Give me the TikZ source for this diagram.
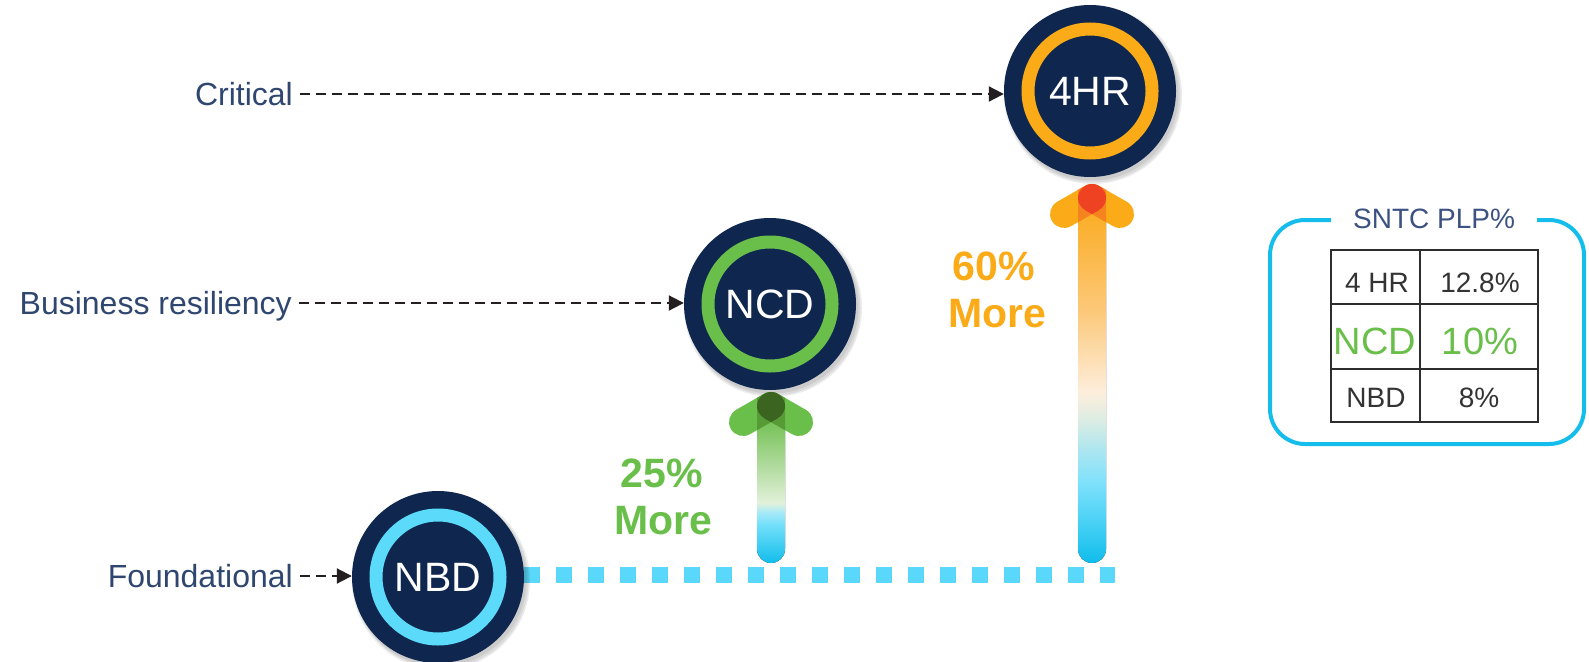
\documentclass[tikz,border=0pt]{standalone}
\usepackage{fontspec}
\setmainfont{Liberation Sans}
\usetikzlibrary{arrows.meta,calc}
\definecolor{navy}{HTML}{0F274F}
\definecolor{lbltxt}{HTML}{2F4770}
\definecolor{ttltxt}{HTML}{3B5282}
\definecolor{cellgray}{HTML}{333333}
\definecolor{gridc}{HTML}{2D2D2D}
\definecolor{arrblack}{HTML}{231F20}
\definecolor{grn}{HTML}{6ABF4B}
\definecolor{grnM}{HTML}{579B37}
\definecolor{grnD}{HTML}{3B6421}
\definecolor{org}{HTML}{FBAB18}
\definecolor{orgM}{HTML}{F5841F}
\definecolor{orgD}{HTML}{EE4223}
\definecolor{cyanring}{HTML}{5BDAF9}
\definecolor{dotc}{HTML}{5AD8FA}
\definecolor{boxc}{HTML}{14BDEB}
% green shaft stops
\definecolor{gs0}{HTML}{12BDEB}
\definecolor{gs1}{HTML}{72DFFA}
\definecolor{gs2}{HTML}{A8EAF8}
\definecolor{gs3}{HTML}{E2F1DA}
\definecolor{gs4}{HTML}{80C663}
\definecolor{gs5}{HTML}{6ABF4B}
% orange shaft stops
\definecolor{os0}{HTML}{0FBCEB}
\definecolor{os1}{HTML}{3ACCF3}
\definecolor{os2}{HTML}{7EE1FC}
\definecolor{os3}{HTML}{ADE6F0}
\definecolor{os4}{HTML}{E0EDE2}
\definecolor{os5}{HTML}{FDEEDC}
\definecolor{os6}{HTML}{FCC878}
\definecolor{os7}{HTML}{FBAE28}
\definecolor{os8}{HTML}{FBAB18}
\pgfdeclareverticalshading{grshaft}{100bp}{color(0bp)=(gs0); color(25bp)=(gs0); color(37.1bp)=(gs1); color(41.2bp)=(gs2); color(44.1bp)=(gs3); color(67.4bp)=(gs4); color(75bp)=(gs5); color(100bp)=(gs5)}
\pgfdeclareverticalshading{orshaft}{100bp}{color(0bp)=(os0); color(25bp)=(os0); color(29.1bp)=(os1); color(36bp)=(os2); color(40.5bp)=(os3); color(45bp)=(os4); color(48.3bp)=(os5); color(59.7bp)=(os6); color(72.7bp)=(os7); color(75bp)=(os8); color(100bp)=(os8)}
\pgfdeclarelayer{bgwhite}
\pgfdeclarelayer{bg}
\pgfdeclarelayer{shad}
\pgfsetlayers{bgwhite,bg,shad,main}
\begin{document}
\begin{tikzpicture}[x=1pt,y=-1pt,
  lbl/.style={text=lbltxt, font=\fontsize{32}{38}\selectfont, inner sep=0pt, text height=23pt, text depth=0pt},
  circ/.style={circle, fill=navy, minimum size=172pt, inner sep=0pt, text=white, font=\fontsize{41}{48}\selectfont, text height=29pt, text depth=0pt},
  ring/.style={line width=13pt},
  dasharr/.style={draw=arrblack, line width=2pt, dash pattern=on 10pt off 6pt, -{Triangle[length=15pt,width=15pt]}, shorten <=7pt},
  dotline/.style={draw=dotc, line width=16pt, dash pattern=on 16pt off 16pt},
  shadowc/.style={fill=black, opacity=0.07},
  wing/.style={line width=28pt, line cap=round, line join=round},
  pct/.style={font=\fontsize{41}{48}\selectfont\bfseries, inner sep=0pt},
  tbox/.style={draw=boxc, line width=4pt, rounded corners=35pt},
  gridln/.style={draw=gridc, line width=2.6pt},
  cell/.style={text=cellgray, font=\fontsize{28}{32}\selectfont, inner sep=0pt, text height=20pt, text depth=0pt},
  bigcell/.style={text=grn, font=\fontsize{38}{44}\selectfont, inner sep=0pt, text height=27pt, text depth=0pt},
  ttl/.style={text=ttltxt, font=\fontsize{28}{32}\selectfont, inner sep=0pt, text height=20pt, text depth=0pt}
]
\begin{pgfonlayer}{bgwhite}
\fill[white] (0,0) rectangle (1589,661);
\end{pgfonlayer}
\useasboundingbox (0,0) rectangle (1589,661);

% centres
\coordinate (p4) at (1090,91);
\coordinate (pn) at (770,304);
\coordinate (pb) at (438,577);

% shadows
\begin{pgfonlayer}{shad}
\foreach \p in {p4,pn,pb}{
  \fill[shadowc] ($(\p)+(3,4)$) circle[radius=89pt];
  \fill[shadowc] ($(\p)+(3,4)$) circle[radius=87.5pt];
  \fill[shadowc] ($(\p)+(2,3)$) circle[radius=86.5pt];
}
\end{pgfonlayer}

% circles
\node[circ] (c4) at (p4) {4HR};
\node[circ] (ncd) at (pn) {NCD};
\node[circ] (nbd) at (pb) {NBD};
\draw[ring, draw=org] (c4.center) circle[radius=62pt];
\draw[ring, draw=grn] (ncd.center) circle[radius=62pt];
\draw[ring, draw=cyanring] (nbd.center) circle[radius=62pt];

% labels and dashed arrows
\node[lbl, anchor=east] (crit) at (293,94) {Critical};
\node[lbl, anchor=east] (biz) at (292,303) {Business resiliency};
\node[lbl, anchor=east] (fnd) at (293,576) {Foundational};
\draw[dasharr] (crit.east) -- (crit.east -| c4.west);
\draw[dasharr] (biz.east) -- (biz.east -| ncd.west);
\draw[dasharr] (fnd.east) -- (fnd.east -| nbd.west);

% dotted baseline
\coordinate (dotend) at (1115,575);
\begin{pgfonlayer}{bg}
\draw[dotline] (nbd.east |- dotend) -- (dotend);
\end{pgfonlayer}

% green arrow
\coordinate (gtip) at (771,406);
\coordinate (gbl) at (743,422);
\coordinate (gbr) at (799,422);
\fill[shading=grshaft, rounded corners=13.9pt] (757,406) rectangle (785,563);
\draw[wing, draw=grn] (gbl) -- (gtip) -- (gbr);
\begin{scope}
  \clip (757,380) rectangle (785,563);
  \draw[wing, draw=grnM] (gbl) -- (gtip) -- (gbr);
\end{scope}
\fill[grnD] (gtip) circle[radius=14pt];
\fill[grnD] ($(gtip)+(-6.95,12.16)$) -- ($(gtip)+(6.95,12.16)$) -- ($(gtip)+(0,16.1)$) -- cycle;

% orange arrow
\coordinate (otip) at (1092,198);
\coordinate (obl) at (1064,214);
\coordinate (obr) at (1120,214);
\fill[shading=orshaft, rounded corners=13.9pt] (1078,198) rectangle (1106,563);
\draw[wing, draw=org] (obl) -- (otip) -- (obr);
\begin{scope}
  \clip (1078,170) rectangle (1106,563);
  \draw[wing, draw=orgM] (obl) -- (otip) -- (obr);
\end{scope}
\fill[orgD] (otip) circle[radius=14pt];
\fill[orgD] ($(otip)+(-6.95,12.16)$) -- ($(otip)+(6.95,12.16)$) -- ($(otip)+(0,16.1)$) -- cycle;

% percentages
\node[pct, text=grn, anchor=base] (t25) at (662,487) {25\%};
\node[pct, text=grn, anchor=base] (m25) at (663,534) {More};
\node[pct, text=org, anchor=base] (t60) at (994,280) {60\%};
\node[pct, text=org, anchor=base] (m60) at (997,327) {More};

% table box
\draw[tbox] (1331,220) -- (1270,220) -- (1270,444) -- (1584,444) -- (1584,220) -- (1537,220);
\node[ttl] (title) at (1434,218) {SNTC PLP\%};
\draw[gridln] (1331,250) rectangle (1538,422);
\draw[gridln] (1331,304) -- (1538,304);
\draw[gridln] (1331,369) -- (1538,369);
\draw[gridln] (1420,250) -- (1420,422);
\node[cell] (r1a) at (1377,282) {4 HR};
\node[cell] (r1b) at (1480,282) {12.8\%};
\node[bigcell] (r2a) at (1375,341) {NCD};
\node[bigcell] (r2b) at (1480,341) {10\%};
\node[cell] (r3a) at (1376,397) {NBD};
\node[cell] (r3b) at (1479,397) {8\%};
\end{tikzpicture}
\end{document}
